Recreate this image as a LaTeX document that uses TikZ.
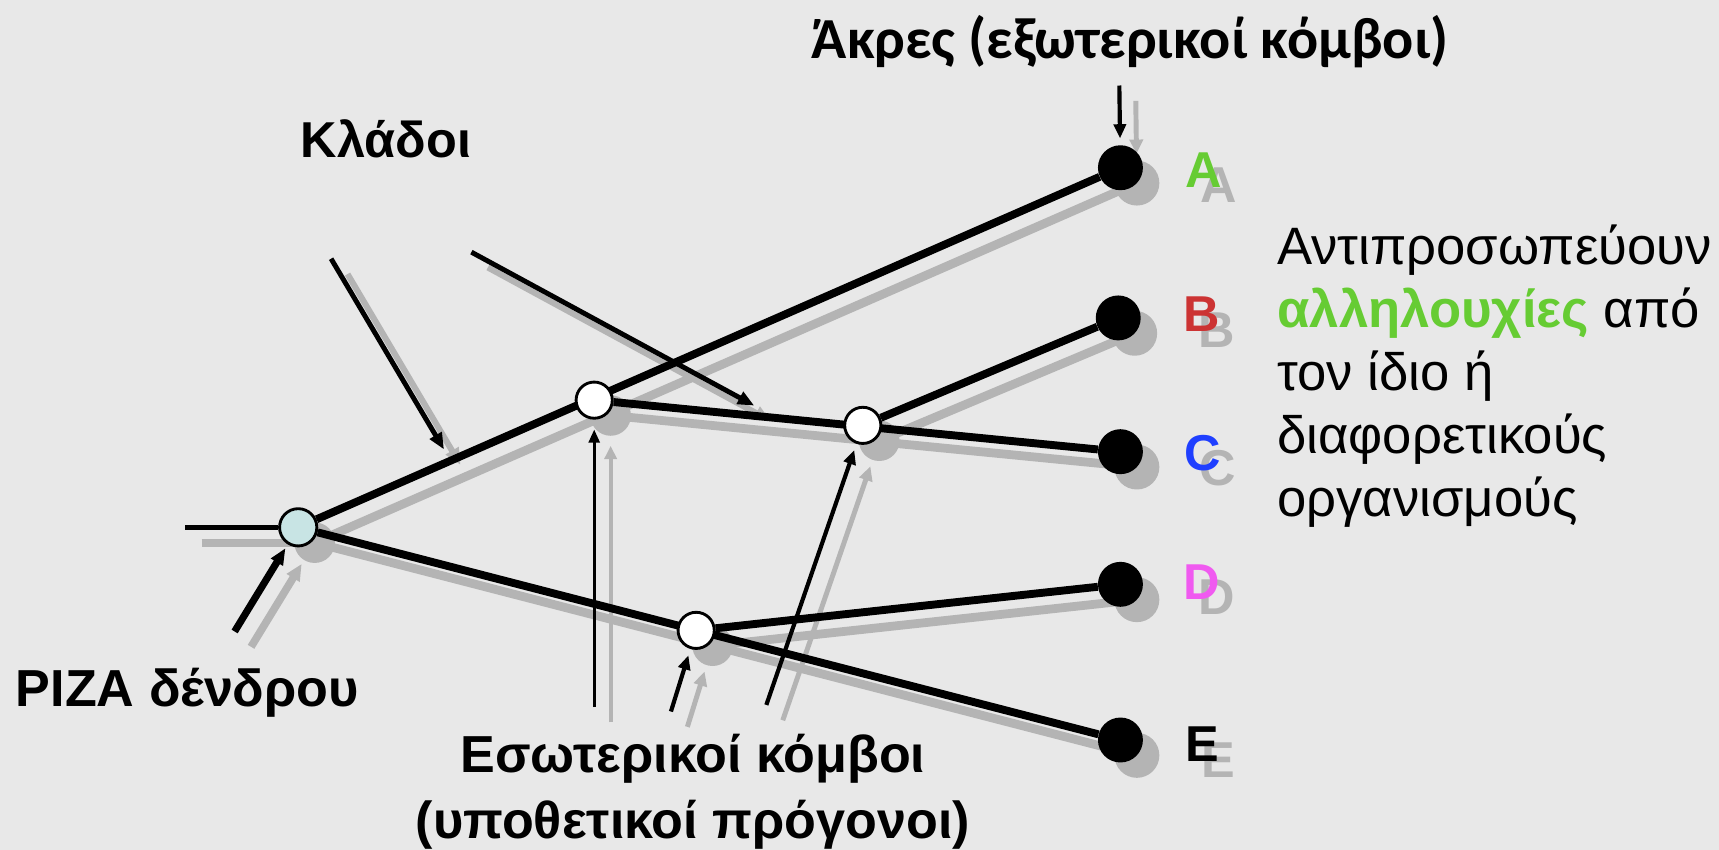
\documentclass[tikz,border=0pt]{standalone}
\usepackage{fontspec}
\setmainfont{Liberation Sans}
\newfontfamily\calibfont{Carlito}
\usetikzlibrary{arrows.meta}
\pgfdeclarelayer{bglayer}
\pgfdeclarelayer{shadowlayer}
\pgfdeclarelayer{linelayer}
\pgfsetlayers{bglayer,shadowlayer,linelayer,main}
\definecolor{bgc}{HTML}{E8E8E8}
\definecolor{shd}{HTML}{B4B4B4}
\definecolor{rootc}{HTML}{C8E4E4}
\definecolor{grn}{HTML}{66CC33}
\definecolor{redc}{HTML}{CC3333}
\definecolor{bluc}{HTML}{1F3FFF}
\definecolor{mag}{HTML}{F05AF0}
\tikzset{
  leaf/.style={circle,fill=black,inner sep=0pt,minimum size=41pt},
  innode/.style={circle,draw=black,line width=2.6pt,fill=white,inner sep=0pt,minimum size=33pt},
  rootnode/.style={innode,fill=rootc,minimum size=34pt},
  shleaf/.style={circle,fill=shd,inner sep=0pt,minimum size=41pt},
  shinner/.style={circle,fill=shd,inner sep=0pt,minimum size=37pt},
  branch/.style={draw=black,line width=7.2pt},
  shbranch/.style={draw=shd,line width=8pt},
  stubline/.style={draw=black,line width=4.5pt},
  shstub/.style={draw=shd,line width=7pt},
  ptrthick/.style={draw=black,line width=4.5pt,-{Triangle[length=15pt,width=12pt]}},
  shptrthick/.style={draw=shd,line width=5.5pt,-{Triangle[length=15pt,width=13pt]}},
  ptrmid/.style={draw=black,line width=3.8pt,-{Triangle[length=13pt,width=11pt]}},
  shptrmid/.style={draw=shd,line width=4.5pt,-{Triangle[length=13pt,width=12pt]}},
  ptrthin/.style={draw=black,line width=2.5pt,-{Triangle[length=12pt,width=10pt]}},
  shptrthin/.style={draw=shd,line width=3.5pt,-{Triangle[length=12pt,width=11pt]}},
  lbl/.style={font=\fontsize{47.5}{52}\selectfont\bfseries,inner sep=0pt},
  letter/.style={font=\fontsize{46}{52}\selectfont\bfseries,inner sep=0pt},
  shletter/.style={letter,text=shd},
}
\begin{document}
\begin{tikzpicture}[x=1pt,y=-1pt]
\begin{pgfonlayer}{bglayer}
  \fill[bgc] (0,0) rectangle (1568,775);
\end{pgfonlayer}
\useasboundingbox (0,0) rectangle (1568,775);

% ---- tree nodes
\node[rootnode] (root) at (272,481) {};
\node[innode] (n1) at (542,365) {};
\node[innode] (n2) at (787,388) {};
\node[innode] (n3) at (635,575) {};
\node[leaf] (A) at (1022,153) {};
\node[leaf] (B) at (1020,290) {};
\node[leaf] (C) at (1022,412) {};
\node[leaf] (D) at (1022,533) {};
\node[leaf] (E) at (1022,675) {};

% ---- free ends of pointers
\coordinate (stub) at (169,481);
\coordinate (k1s) at (302,236);
\coordinate (k1e) at (405,410);
\coordinate (k2s) at (430,230);
\coordinate (k2e) at (688,370);
\coordinate (rs) at (214,576);
\coordinate (v1s) at (542,645);
\coordinate (v3s) at (612,649);
\coordinate (v2s) at (699,643);
\coordinate (as) at (1021,78);

% ---- shadow copies
\begin{pgfonlayer}{shadowlayer}
  \node[shinner] (rootS) at ([shift={(15,14)}]root) {};
  \node[shinner] (n1S) at ([shift={(15,14)}]n1) {};
  \node[shinner] (n2S) at ([shift={(15,14)}]n2) {};
  \node[shinner] (n3S) at ([shift={(15,14)}]n3) {};
  \node[shleaf] (AS) at ([shift={(15,14)}]A) {};
  \node[shleaf] (BS) at ([shift={(15,14)}]B) {};
  \node[shleaf] (CS) at ([shift={(15,14)}]C) {};
  \node[shleaf] (DS) at ([shift={(15,14)}]D) {};
  \node[shleaf] (ES) at ([shift={(15,14)}]E) {};
  \coordinate (stubS) at ([shift={(15,14)}]stub);
  \coordinate (k1sS) at ([shift={(15,14)}]k1s);
  \coordinate (k1eS) at ([shift={(15,14)}]k1e);
  \coordinate (k2sS) at ([shift={(15,14)}]k2s);
  \coordinate (k2eS) at ([shift={(15,14)}]k2e);
  \coordinate (rsS) at ([shift={(15,14)}]rs);
  \coordinate (v1sS) at ([shift={(15,14)}]v1s);
  \coordinate (v3sS) at ([shift={(15,14)}]v3s);
  \coordinate (v2sS) at ([shift={(15,14)}]v2s);
  \coordinate (asS) at ([shift={(15,14)}]as);
  \draw[shstub] (stubS) -- (rootS.center);
  \draw[shbranch] (rootS.center) -- (AS.center);
  \draw[shbranch] (rootS.center) -- (ES.center);
  \draw[shbranch] (n1S.center) -- (CS.center);
  \draw[shbranch] (n2S.center) -- (BS.center);
  \draw[shbranch] (n3S.center) -- (DS.center);
  \draw[shptrthick] (k1sS) -- (k1eS);
  \draw[shptrthick] (k2sS) -- (k2eS);
  \draw[shptrthick, line width=7pt, shorten >=4pt] (rsS) -- (rootS);
  \draw[shptrthin, shorten >=9pt] (v1sS) -- (n1S);
  \draw[shptrmid, shorten >=6pt] (v3sS) -- (n3S);
  \draw[shptrmid, shorten >=6pt] (v2sS) -- (n2S);
  \draw[shptrmid, shorten >=6pt] (asS) -- (AS);
  \node[shletter] (AlS) at (1112,169) {A};
  \node[shletter] (BlS) at (1110,301) {B};
  \node[shletter] (ClS) at (1111,427) {C};
  \node[shletter] (DlS) at (1110,545) {D};
  \node[shletter] (ElS) at (1111,693) {E};
\end{pgfonlayer}

% ---- branches and pointers
\begin{pgfonlayer}{linelayer}
  \draw[stubline] (stub) -- (root);
  \draw[branch] (root) -- (A);
  \draw[branch] (root) -- (E);
  \draw[branch] (n1) -- (C);
  \draw[branch] (n2) -- (B);
  \draw[branch] (n3) -- (D);
  \draw[ptrthick] (k1s) -- (k1e);
  \draw[ptrthick] (k2s) -- (k2e);
  \draw[ptrthick, line width=6.5pt, shorten >=4pt] (rs) -- (root);
  \draw[ptrthin, shorten >=9pt] (v1s) -- (n1);
  \draw[ptrmid, shorten >=6pt] (v3s) -- (n3);
  \draw[ptrmid, shorten >=6pt] (v2s) -- (n2);
  \draw[ptrmid, shorten >=6pt] (as) -- (A);
\end{pgfonlayer}

% ---- leaf letters
\node[letter, text=grn] (Al) at (1098,155) {A};
\node[letter, text=redc] (Bl) at (1096,287) {B};
\node[letter, text=bluc] (Cl) at (1097,413) {C};
\node[letter, text=mag] (Dl) at (1096,531) {D};
\node[letter, text=black] (El) at (1097,679) {E};

% ---- labels
\node[inner sep=0pt, font=\calibfont\fontsize{53}{58}\selectfont\bfseries] (akres) at (1031,38) {Άκρες (εξωτερικοί κόμβοι)};
\node[lbl, font=\fontsize{46}{52}\selectfont\bfseries] (kladoi) at (352,127) {Κλάδοι};
\node[lbl] (riza) at (171,632) {ΡΙΖΑ δένδρου};
\node[lbl] (eso) at (632,692) {Εσωτερικοί κόμβοι};
\node[lbl] (ypo) at (632,752) {(υποθετικοί πρόγονοι)};
\node[anchor=north west, align=left, inner sep=0pt, font=\fontsize{48}{57.5}\selectfont] (desc) at (1165,205)
  {Αντιπροσωπεύουν\\{\bfseries\color{grn}αλληλουχίες} από\\τον ίδιο ή\\διαφορετικούς\\οργανισμούς};
\end{tikzpicture}
\end{document}
